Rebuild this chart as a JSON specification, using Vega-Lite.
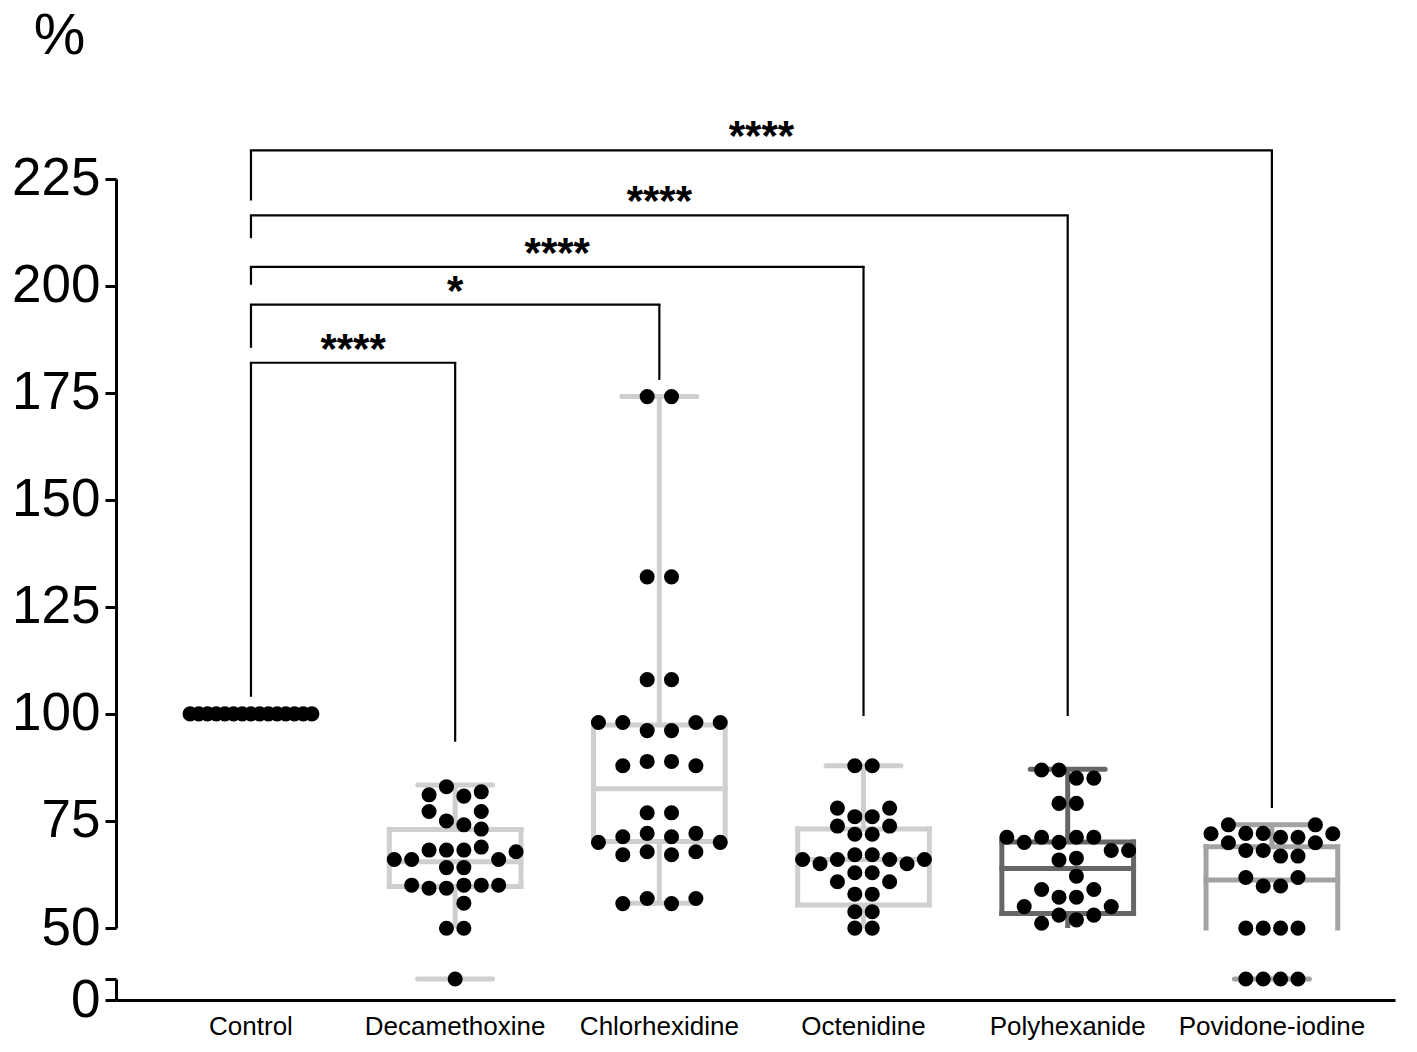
{
  "$schema": "https://vega.github.io/schema/vega-lite/v6.json",
  "width": 1279,
  "height": 907,
  "autosize": {"type": "none"},
  "padding": {"left": 116, "top": 93, "right": 22, "bottom": 52},
  "background": "white",
  "config": {
    "view": {"stroke": null},
    "font": "Liberation Sans",
    "axisX": {"domainColor": "black", "domainWidth": 3, "ticks": false, "labelFontSize": 26, "labelColor": "black", "labelPadding": 13, "labelAngle": 0, "labelLimit": 0, "grid": false, "labelFont": "Liberation Sans"}
  },
  "datasets": {
    "dots": [
      {"group": "Control", "value": 100, "slot": -3.5}, {"group": "Control", "value": 100, "slot": -3}, {"group": "Control", "value": 100, "slot": -2.5}, {"group": "Control", "value": 100, "slot": -2}, {"group": "Control", "value": 100, "slot": -1.5}, {"group": "Control", "value": 100, "slot": -1}, {"group": "Control", "value": 100, "slot": -0.5}, {"group": "Control", "value": 100, "slot": 0}, {"group": "Control", "value": 100, "slot": 0.5}, {"group": "Control", "value": 100, "slot": 1}, {"group": "Control", "value": 100, "slot": 1.5}, {"group": "Control", "value": 100, "slot": 2}, {"group": "Control", "value": 100, "slot": 2.5}, {"group": "Control", "value": 100, "slot": 3}, {"group": "Control", "value": 100, "slot": 3.5},
      {"group": "Decamethoxine", "value": 83.0, "slot": -0.5}, {"group": "Decamethoxine", "value": 81.1, "slot": -1.5}, {"group": "Decamethoxine", "value": 80.8, "slot": 0.5}, {"group": "Decamethoxine", "value": 81.8, "slot": 1.5},
      {"group": "Decamethoxine", "value": 77.2, "slot": -1.5}, {"group": "Decamethoxine", "value": 77.2, "slot": 1.5}, {"group": "Decamethoxine", "value": 75.0, "slot": -0.5}, {"group": "Decamethoxine", "value": 74.1, "slot": 0.5}, {"group": "Decamethoxine", "value": 73.1, "slot": 1.5},
      {"group": "Decamethoxine", "value": 68.9, "slot": 1.5}, {"group": "Decamethoxine", "value": 67.8, "slot": 3.5}, {"group": "Decamethoxine", "value": 68.2, "slot": -1.5}, {"group": "Decamethoxine", "value": 68.2, "slot": -0.5}, {"group": "Decamethoxine", "value": 68.2, "slot": 0.5},
      {"group": "Decamethoxine", "value": 66.0, "slot": -3.5}, {"group": "Decamethoxine", "value": 66.0, "slot": -2.5}, {"group": "Decamethoxine", "value": 66.0, "slot": 2.5}, {"group": "Decamethoxine", "value": 64.1, "slot": -0.5}, {"group": "Decamethoxine", "value": 64.1, "slot": 0.5},
      {"group": "Decamethoxine", "value": 60.0, "slot": -2.5}, {"group": "Decamethoxine", "value": 59.3, "slot": -1.5}, {"group": "Decamethoxine", "value": 59.3, "slot": -0.5}, {"group": "Decamethoxine", "value": 60.0, "slot": 0.5}, {"group": "Decamethoxine", "value": 60.0, "slot": 1.5}, {"group": "Decamethoxine", "value": 60.0, "slot": 2.5},
      {"group": "Decamethoxine", "value": 55.8, "slot": 0.5}, {"group": "Decamethoxine", "value": 49.8, "slot": -0.5}, {"group": "Decamethoxine", "value": 49.8, "slot": 0.5}, {"group": "Decamethoxine", "value": 10, "slot": 0},
      {"group": "Chlorhexidine", "value": 174.1, "slot": -0.7}, {"group": "Chlorhexidine", "value": 174.1, "slot": 0.7},
      {"group": "Chlorhexidine", "value": 132.0, "slot": -0.7}, {"group": "Chlorhexidine", "value": 132.0, "slot": 0.7},
      {"group": "Chlorhexidine", "value": 108.0, "slot": -0.7}, {"group": "Chlorhexidine", "value": 108.0, "slot": 0.7},
      {"group": "Chlorhexidine", "value": 98.0, "slot": -3.5}, {"group": "Chlorhexidine", "value": 98.0, "slot": -2.1}, {"group": "Chlorhexidine", "value": 98.0, "slot": 2.1}, {"group": "Chlorhexidine", "value": 98.0, "slot": 3.5},
      {"group": "Chlorhexidine", "value": 96.1, "slot": -0.7}, {"group": "Chlorhexidine", "value": 96.1, "slot": 0.7},
      {"group": "Chlorhexidine", "value": 87.9, "slot": -2.1}, {"group": "Chlorhexidine", "value": 87.9, "slot": 2.1},
      {"group": "Chlorhexidine", "value": 88.9, "slot": -0.7}, {"group": "Chlorhexidine", "value": 88.9, "slot": 0.7},
      {"group": "Chlorhexidine", "value": 76.9, "slot": -0.7}, {"group": "Chlorhexidine", "value": 76.9, "slot": 0.7},
      {"group": "Chlorhexidine", "value": 72.1, "slot": -0.7}, {"group": "Chlorhexidine", "value": 72.1, "slot": 2.1},
      {"group": "Chlorhexidine", "value": 71.3, "slot": -2.1}, {"group": "Chlorhexidine", "value": 71.3, "slot": 0.7},
      {"group": "Chlorhexidine", "value": 70.0, "slot": -3.5}, {"group": "Chlorhexidine", "value": 70.0, "slot": 3.5},
      {"group": "Chlorhexidine", "value": 67.1, "slot": -2.1}, {"group": "Chlorhexidine", "value": 67.1, "slot": 0.7},
      {"group": "Chlorhexidine", "value": 67.8, "slot": -0.7}, {"group": "Chlorhexidine", "value": 67.8, "slot": 2.1},
      {"group": "Chlorhexidine", "value": 55.7, "slot": -2.1}, {"group": "Chlorhexidine", "value": 55.7, "slot": 0.7},
      {"group": "Chlorhexidine", "value": 56.9, "slot": -0.7}, {"group": "Chlorhexidine", "value": 56.9, "slot": 2.1},
      {"group": "Octenidine", "value": 87.9, "slot": -0.5}, {"group": "Octenidine", "value": 87.9, "slot": 0.5},
      {"group": "Octenidine", "value": 78.0, "slot": -1.5}, {"group": "Octenidine", "value": 78.0, "slot": 1.5},
      {"group": "Octenidine", "value": 76.0, "slot": -0.5}, {"group": "Octenidine", "value": 76.0, "slot": 0.5},
      {"group": "Octenidine", "value": 73.8, "slot": -1.5}, {"group": "Octenidine", "value": 73.8, "slot": 1.5},
      {"group": "Octenidine", "value": 71.9, "slot": -0.5}, {"group": "Octenidine", "value": 71.9, "slot": 0.5},
      {"group": "Octenidine", "value": 66.0, "slot": -3.5}, {"group": "Octenidine", "value": 66.0, "slot": -1.5}, {"group": "Octenidine", "value": 66.0, "slot": 1.5}, {"group": "Octenidine", "value": 66.0, "slot": 3.5},
      {"group": "Octenidine", "value": 65.0, "slot": -2.5}, {"group": "Octenidine", "value": 65.0, "slot": 2.5},
      {"group": "Octenidine", "value": 67.1, "slot": -0.5}, {"group": "Octenidine", "value": 67.1, "slot": 0.5},
      {"group": "Octenidine", "value": 62.9, "slot": -0.5}, {"group": "Octenidine", "value": 62.9, "slot": 0.5},
      {"group": "Octenidine", "value": 60.8, "slot": -1.5}, {"group": "Octenidine", "value": 60.8, "slot": 1.5},
      {"group": "Octenidine", "value": 57.9, "slot": -0.5}, {"group": "Octenidine", "value": 57.9, "slot": 0.5},
      {"group": "Octenidine", "value": 53.8, "slot": -0.5}, {"group": "Octenidine", "value": 53.8, "slot": 0.5},
      {"group": "Octenidine", "value": 49.9, "slot": -0.5}, {"group": "Octenidine", "value": 49.9, "slot": 0.5},
      {"group": "Polyhexanide", "value": 86.9, "slot": -1.5}, {"group": "Polyhexanide", "value": 86.9, "slot": -0.5},
      {"group": "Polyhexanide", "value": 85.0, "slot": 0.5}, {"group": "Polyhexanide", "value": 85.0, "slot": 1.5},
      {"group": "Polyhexanide", "value": 79.1, "slot": -0.5}, {"group": "Polyhexanide", "value": 79.1, "slot": 0.5},
      {"group": "Polyhexanide", "value": 71.2, "slot": -3.5}, {"group": "Polyhexanide", "value": 71.2, "slot": -1.5}, {"group": "Polyhexanide", "value": 71.2, "slot": 0.5}, {"group": "Polyhexanide", "value": 71.2, "slot": 1.5},
      {"group": "Polyhexanide", "value": 70.0, "slot": -2.5}, {"group": "Polyhexanide", "value": 70.0, "slot": -0.5},
      {"group": "Polyhexanide", "value": 68.1, "slot": 2.5}, {"group": "Polyhexanide", "value": 68.1, "slot": 3.5},
      {"group": "Polyhexanide", "value": 65.9, "slot": -0.5}, {"group": "Polyhexanide", "value": 66.3, "slot": 0.5},
      {"group": "Polyhexanide", "value": 62.1, "slot": 0.5},
      {"group": "Polyhexanide", "value": 59.0, "slot": -1.5}, {"group": "Polyhexanide", "value": 59.0, "slot": 1.5},
      {"group": "Polyhexanide", "value": 57.2, "slot": -0.5}, {"group": "Polyhexanide", "value": 57.2, "slot": 0.5},
      {"group": "Polyhexanide", "value": 55.0, "slot": -2.5}, {"group": "Polyhexanide", "value": 55.0, "slot": 2.5},
      {"group": "Polyhexanide", "value": 53.0, "slot": -0.5}, {"group": "Polyhexanide", "value": 53.0, "slot": 1.5},
      {"group": "Polyhexanide", "value": 51.9, "slot": 0.5}, {"group": "Polyhexanide", "value": 51.1, "slot": -1.5},
      {"group": "Povidone-iodine", "value": 74.1, "slot": -2.5}, {"group": "Povidone-iodine", "value": 74.1, "slot": 2.5},
      {"group": "Povidone-iodine", "value": 72.0, "slot": -3.5}, {"group": "Povidone-iodine", "value": 72.0, "slot": 3.5},
      {"group": "Povidone-iodine", "value": 72.1, "slot": -1.5}, {"group": "Povidone-iodine", "value": 72.1, "slot": -0.5},
      {"group": "Povidone-iodine", "value": 71.2, "slot": 0.5}, {"group": "Povidone-iodine", "value": 71.2, "slot": 1.5},
      {"group": "Povidone-iodine", "value": 69.9, "slot": -2.5}, {"group": "Povidone-iodine", "value": 69.9, "slot": 2.5},
      {"group": "Povidone-iodine", "value": 68.1, "slot": -1.5}, {"group": "Povidone-iodine", "value": 68.1, "slot": -0.5},
      {"group": "Povidone-iodine", "value": 66.8, "slot": 0.5}, {"group": "Povidone-iodine", "value": 66.8, "slot": 1.5},
      {"group": "Povidone-iodine", "value": 61.8, "slot": -1.5}, {"group": "Povidone-iodine", "value": 61.8, "slot": 1.5},
      {"group": "Povidone-iodine", "value": 59.8, "slot": -0.5}, {"group": "Povidone-iodine", "value": 59.8, "slot": 0.5},
      {"group": "Povidone-iodine", "value": 49.9, "slot": -1.5}, {"group": "Povidone-iodine", "value": 49.9, "slot": -0.5}, {"group": "Povidone-iodine", "value": 49.9, "slot": 0.5}, {"group": "Povidone-iodine", "value": 49.9, "slot": 1.5},
      {"group": "Povidone-iodine", "value": 10, "slot": -1.5}, {"group": "Povidone-iodine", "value": 10, "slot": -0.5}, {"group": "Povidone-iodine", "value": 10, "slot": 0.5}, {"group": "Povidone-iodine", "value": 10, "slot": 1.5}
    ],
    "boxes": [
      {"group": "Decamethoxine", "q1": 59.7, "median": 65.5, "q3": 73.0},
      {"group": "Chlorhexidine", "q1": 70.2, "median": 82.5, "q3": 97.4},
      {"group": "Octenidine", "q1": 55.4, "median": 66.0, "q3": 73.1},
      {"group": "Polyhexanide", "q1": 53.4, "median": 63.9, "q3": 70.1},
      {"group": "Povidone-iodine", "q1": 50.0, "median": 61.2, "q3": 69.0}
    ],
    "whiskers": [
      {"group": "Decamethoxine", "from": 73.0, "to": 83.4},
      {"group": "Decamethoxine", "from": 59.7, "to": 50},
      {"group": "Chlorhexidine", "from": 97.4, "to": 174.1},
      {"group": "Chlorhexidine", "from": 70.2, "to": 55.8},
      {"group": "Octenidine", "from": 73.1, "to": 87.9},
      {"group": "Octenidine", "from": 55.4, "to": 50},
      {"group": "Polyhexanide", "from": 70.1, "to": 87.1},
      {"group": "Polyhexanide", "from": 53.4, "to": 50},
      {"group": "Povidone-iodine", "from": 69.0, "to": 74.1}
    ],
    "caps": [
      {"group": "Decamethoxine", "at": 83.4}, {"group": "Decamethoxine", "at": 10},
      {"group": "Chlorhexidine", "at": 174.1}, {"group": "Chlorhexidine", "at": 55.8},
      {"group": "Octenidine", "at": 87.9},
      {"group": "Polyhexanide", "at": 87.1},
      {"group": "Povidone-iodine", "at": 74.1}, {"group": "Povidone-iodine", "at": 10}
    ],
    "comparisons": [
      {"from": "Control", "group": "Decamethoxine", "h": 182.0, "left": 104.0, "right": 93.5},
      {"from": "Control", "group": "Chlorhexidine", "h": 195.6, "left": 185.5, "right": 178.0},
      {"from": "Control", "group": "Octenidine", "h": 204.4, "left": 200.2, "right": 99.5},
      {"from": "Control", "group": "Polyhexanide", "h": 216.4, "left": 211.1, "right": 99.5},
      {"from": "Control", "group": "Povidone-iodine", "h": 231.6, "left": 219.9, "right": 78.0}
    ],
    "starsEdge": [
      {"group": "Control", "h": 182.0, "stars": "****"},
      {"group": "Decamethoxine", "h": 204.4, "stars": "****"},
      {"group": "Chlorhexidine", "h": 231.6, "stars": "****"}
    ],
    "starsMid": [
      {"group": "Decamethoxine", "h": 195.6, "stars": "*"},
      {"group": "Chlorhexidine", "h": 216.4, "stars": "****"}
    ]
  },
  "layer": [
    {
      "layer": [
        {
          "data": {"name": "boxes"},
          "mark": {"type": "rule", "strokeWidth": 5, "strokeCap": "square"},
          "encoding": {
            "x": {"field": "group", "type": "nominal", "title": null, "bandPosition": 0.1775, "scale": {"domain": ["Control", "Decamethoxine", "Chlorhexidine", "Octenidine", "Polyhexanide", "Povidone-iodine"], "paddingInner": 0, "paddingOuter": 0.132, "align": 0.61}},
            "x2": {"field": "group", "bandPosition": 0.8225},
            "y": {"field": "q3", "type": "quantitative", "axis": null, "scale": {"domain": [0, 10, 50, 245], "range": [907, 886, 835, 0], "nice": false, "zero": false}},
            "color": {"field": "group", "type": "nominal", "legend": null, "scale": {"domain": ["Decamethoxine", "Chlorhexidine", "Octenidine", "Polyhexanide", "Povidone-iodine"], "range": ["#cfcfcf", "#cfcfcf", "#cfcfcf", "#666666", "#a3a3a3"]}}
          }
        },
        {
          "data": {"name": "boxes"},
          "mark": {"type": "rule", "strokeWidth": 5, "strokeCap": "square"},
          "encoding": {
            "x": {"field": "group", "type": "nominal", "title": null, "bandPosition": 0.1775},
            "x2": {"field": "group", "bandPosition": 0.8225},
            "y": {"field": "median", "type": "quantitative", "axis": null},
            "color": {"field": "group", "type": "nominal", "legend": null}
          }
        },
        {
          "data": {"name": "boxes"},
          "transform": [{"filter": "datum.q1 > 50"}],
          "mark": {"type": "rule", "strokeWidth": 5, "strokeCap": "square"},
          "encoding": {
            "x": {"field": "group", "type": "nominal", "title": null, "bandPosition": 0.1775},
            "x2": {"field": "group", "bandPosition": 0.8225},
            "y": {"field": "q1", "type": "quantitative", "axis": null},
            "color": {"field": "group", "type": "nominal", "legend": null}
          }
        },
        {
          "data": {"name": "boxes"},
          "mark": {"type": "rule", "strokeWidth": 5, "strokeCap": "square"},
          "encoding": {
            "x": {"field": "group", "type": "nominal", "title": null, "bandPosition": 0.1775},
            "y": {"field": "q1", "type": "quantitative", "axis": null},
            "y2": {"field": "q3"},
            "color": {"field": "group", "type": "nominal", "legend": null}
          }
        },
        {
          "data": {"name": "boxes"},
          "mark": {"type": "rule", "strokeWidth": 5, "strokeCap": "square"},
          "encoding": {
            "x": {"field": "group", "type": "nominal", "title": null, "bandPosition": 0.8225},
            "y": {"field": "q1", "type": "quantitative", "axis": null},
            "y2": {"field": "q3"},
            "color": {"field": "group", "type": "nominal", "legend": null}
          }
        },
        {
          "data": {"name": "whiskers"},
          "mark": {"type": "rule", "strokeWidth": 5, "strokeCap": "butt"},
          "encoding": {
            "x": {"field": "group", "type": "nominal", "title": null, "bandPosition": 0.5},
            "y": {"field": "from", "type": "quantitative", "axis": null},
            "y2": {"field": "to"},
            "color": {"field": "group", "type": "nominal", "legend": null}
          }
        },
        {
          "data": {"name": "caps"},
          "mark": {"type": "rule", "strokeWidth": 5, "strokeCap": "round"},
          "encoding": {
            "x": {"field": "group", "type": "nominal", "title": null, "bandPosition": 0.3165},
            "x2": {"field": "group", "bandPosition": 0.6835},
            "y": {"field": "at", "type": "quantitative", "axis": null},
            "color": {"field": "group", "type": "nominal", "legend": null}
          }
        },
        {
          "data": {"name": "dots"},
          "mark": {"type": "circle", "size": 227, "color": "black", "opacity": 1},
          "encoding": {
            "x": {"field": "group", "type": "nominal", "title": null},
            "xOffset": {"field": "slot", "type": "quantitative", "scale": {"domain": [-4, 4], "range": [32.5, 171.7]}},
            "y": {"field": "value", "type": "quantitative", "axis": null}
          }
        },
        {
          "data": {"name": "comparisons"},
          "mark": {"type": "rule", "strokeWidth": 2.2, "color": "black", "strokeCap": "square"},
          "encoding": {
            "x": {"field": "from", "type": "nominal", "title": null, "bandPosition": 0.5},
            "x2": {"field": "group", "bandPosition": 0.5},
            "y": {"field": "h", "type": "quantitative", "axis": null}
          }
        },
        {
          "data": {"name": "comparisons"},
          "mark": {"type": "rule", "strokeWidth": 2.2, "color": "black"},
          "encoding": {
            "x": {"field": "from", "type": "nominal", "title": null, "bandPosition": 0.5},
            "y": {"field": "h", "type": "quantitative", "axis": null},
            "y2": {"field": "left"}
          }
        },
        {
          "data": {"name": "comparisons"},
          "mark": {"type": "rule", "strokeWidth": 2.2, "color": "black"},
          "encoding": {
            "x": {"field": "group", "type": "nominal", "title": null, "bandPosition": 0.5},
            "y": {"field": "h", "type": "quantitative", "axis": null},
            "y2": {"field": "right"}
          }
        },
        {
          "data": {"name": "starsEdge"},
          "mark": {"type": "text", "fontSize": 42, "fontWeight": "bold", "align": "center", "baseline": "alphabetic", "color": "black", "font": "Liberation Sans"},
          "encoding": {
            "x": {"field": "group", "type": "nominal", "title": null, "bandPosition": 1},
            "y": {"field": "h", "type": "quantitative", "axis": null},
            "text": {"field": "stars"}
          }
        },
        {
          "data": {"name": "starsMid"},
          "mark": {"type": "text", "fontSize": 42, "fontWeight": "bold", "align": "center", "baseline": "alphabetic", "color": "black", "font": "Liberation Sans"},
          "encoding": {
            "x": {"field": "group", "type": "nominal", "title": null, "bandPosition": 0.5},
            "y": {"field": "h", "type": "quantitative", "axis": null},
            "text": {"field": "stars"}
          }
        }
      ]
    },
    {
      "data": {"values": [{"v": 50}, {"v": 225}]},
      "mark": {"type": "point", "opacity": 0},
      "encoding": {
        "y": {"field": "v", "type": "quantitative",
          "scale": {"domain": [50, 225], "range": [835, 85.64], "nice": false, "zero": false},
          "axis": {"orient": "left", "values": [50, 75, 100, 125, 150, 175, 200, 225], "title": "%", "titleAngle": 0, "titleX": -57, "titleY": -57, "titleFontSize": 58, "titleFontWeight": "normal", "titleAlign": "center", "titleBaseline": "middle", "titleColor": "black", "titleFont": "Liberation Sans", "labelFont": "Liberation Sans", "labelFontSize": 53, "labelColor": "black", "labelPadding": 5, "tickSize": 11, "tickWidth": 3, "tickColor": "black", "domainWidth": 3, "domainColor": "black", "grid": false, "labelFlush": false, "labelOverlap": false}}
      }
    },
    {
      "data": {"values": [{"v": 0}, {"v": 10}]},
      "mark": {"type": "point", "opacity": 0},
      "encoding": {
        "y": {"field": "v", "type": "quantitative",
          "scale": {"domain": [0, 10], "range": [907, 886], "nice": false, "zero": false},
          "axis": {"orient": "left", "values": [0, 10], "labelExpr": "datum.value == 0 ? '0' : ''", "title": null, "labelFont": "Liberation Sans", "labelFontSize": 53, "labelColor": "black", "labelPadding": 5, "tickSize": 11, "tickWidth": 3, "tickColor": "black", "domainWidth": 3, "domainColor": "black", "grid": false, "labelFlush": false, "labelOverlap": false}}
      }
    }
  ],
  "resolve": {"scale": {"y": "independent"}}
}
